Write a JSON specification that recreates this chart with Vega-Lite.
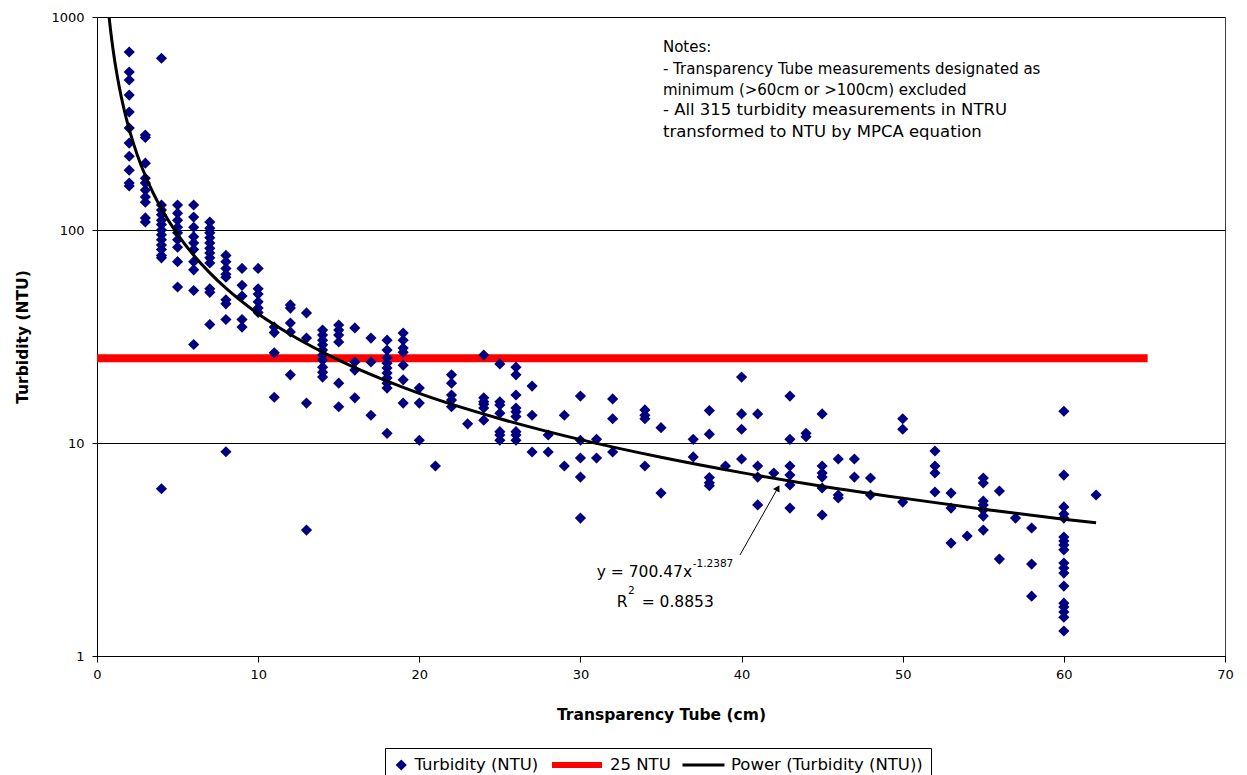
{
  "$schema": "https://vega.github.io/schema/vega-lite/v6.json",
  "width": 1128,
  "height": 639,
  "autosize": {"type": "none"},
  "padding": {"left": 97, "top": 17, "right": 22, "bottom": 119},
  "background": "white",
  "config": {
    "font": "DejaVu Sans",
    "view": {"stroke": "#404040", "strokeWidth": 1},
    "axis": {
      "domainColor": "black",
      "tickColor": "black",
      "labelColor": "black",
      "titleColor": "black",
      "labelFont": "DejaVu Sans",
      "titleFont": "DejaVu Sans",
      "labelFontSize": 13,
      "titleFontSize": 15.5,
      "titleFontWeight": "bold",
      "labelFlush": false
    },
    "legend": {
      "orient": "none",
      "legendX": 288,
      "legendY": 731,
      "direction": "horizontal",
      "clipHeight": 18,
      "strokeColor": "black",
      "strokeWidth": 1,
      "fillColor": "white",
      "padding": 8,
      "labelFont": "DejaVu Sans",
      "labelFontSize": 16.5,
      "labelColor": "black",
      "labelLimit": 400,
      "columnPadding": 10,
      "labelOffset": 5
    }
  },
  "datasets": {
    "turbidity": [
      {"x":2,"y":685,"series":"Turbidity (NTU)"},{"x":2,"y":552,"series":"Turbidity (NTU)"},{"x":2,"y":506,"series":"Turbidity (NTU)"},{"x":2,"y":430,"series":"Turbidity (NTU)"},{"x":2,"y":358,"series":"Turbidity (NTU)"},{"x":2,"y":301,"series":"Turbidity (NTU)"},{"x":2,"y":256,"series":"Turbidity (NTU)"},{"x":2,"y":222,"series":"Turbidity (NTU)"},{"x":2,"y":191,"series":"Turbidity (NTU)"},{"x":2,"y":166,"series":"Turbidity (NTU)"},{"x":2,"y":161,"series":"Turbidity (NTU)"},
      {"x":3,"y":279,"series":"Turbidity (NTU)"},{"x":3,"y":272,"series":"Turbidity (NTU)"},{"x":3,"y":206,"series":"Turbidity (NTU)"},{"x":3,"y":175,"series":"Turbidity (NTU)"},{"x":3,"y":166,"series":"Turbidity (NTU)"},{"x":3,"y":154,"series":"Turbidity (NTU)"},{"x":3,"y":143,"series":"Turbidity (NTU)"},{"x":3,"y":135,"series":"Turbidity (NTU)"},{"x":3,"y":114,"series":"Turbidity (NTU)"},{"x":3,"y":109,"series":"Turbidity (NTU)"},
      {"x":4,"y":640,"series":"Turbidity (NTU)"},{"x":4,"y":131,"series":"Turbidity (NTU)"},{"x":4,"y":124,"series":"Turbidity (NTU)"},{"x":4,"y":118,"series":"Turbidity (NTU)"},{"x":4,"y":111,"series":"Turbidity (NTU)"},{"x":4,"y":106,"series":"Turbidity (NTU)"},{"x":4,"y":100,"series":"Turbidity (NTU)"},{"x":4,"y":95,"series":"Turbidity (NTU)"},{"x":4,"y":90,"series":"Turbidity (NTU)"},{"x":4,"y":85,"series":"Turbidity (NTU)"},{"x":4,"y":81,"series":"Turbidity (NTU)"},{"x":4,"y":76,"series":"Turbidity (NTU)"},{"x":4,"y":74,"series":"Turbidity (NTU)"},{"x":4,"y":6.1,"series":"Turbidity (NTU)"},
      {"x":5,"y":131,"series":"Turbidity (NTU)"},{"x":5,"y":120,"series":"Turbidity (NTU)"},{"x":5,"y":111,"series":"Turbidity (NTU)"},{"x":5,"y":103,"series":"Turbidity (NTU)"},{"x":5,"y":97,"series":"Turbidity (NTU)"},{"x":5,"y":90,"series":"Turbidity (NTU)"},{"x":5,"y":83,"series":"Turbidity (NTU)"},{"x":5,"y":71,"series":"Turbidity (NTU)"},{"x":5,"y":54,"series":"Turbidity (NTU)"},
      {"x":6,"y":131,"series":"Turbidity (NTU)"},{"x":6,"y":115,"series":"Turbidity (NTU)"},{"x":6,"y":103,"series":"Turbidity (NTU)"},{"x":6,"y":93,"series":"Turbidity (NTU)"},{"x":6,"y":87,"series":"Turbidity (NTU)"},{"x":6,"y":81,"series":"Turbidity (NTU)"},{"x":6,"y":71,"series":"Turbidity (NTU)"},{"x":6,"y":65,"series":"Turbidity (NTU)"},{"x":6,"y":52,"series":"Turbidity (NTU)"},{"x":6,"y":29,"series":"Turbidity (NTU)"},
      {"x":7,"y":109,"series":"Turbidity (NTU)"},{"x":7,"y":102,"series":"Turbidity (NTU)"},{"x":7,"y":97,"series":"Turbidity (NTU)"},{"x":7,"y":92,"series":"Turbidity (NTU)"},{"x":7,"y":87,"series":"Turbidity (NTU)"},{"x":7,"y":82,"series":"Turbidity (NTU)"},{"x":7,"y":78,"series":"Turbidity (NTU)"},{"x":7,"y":74,"series":"Turbidity (NTU)"},{"x":7,"y":70,"series":"Turbidity (NTU)"},{"x":7,"y":53,"series":"Turbidity (NTU)"},{"x":7,"y":51,"series":"Turbidity (NTU)"},{"x":7,"y":36,"series":"Turbidity (NTU)"},
      {"x":8,"y":76,"series":"Turbidity (NTU)"},{"x":8,"y":71,"series":"Turbidity (NTU)"},{"x":8,"y":66,"series":"Turbidity (NTU)"},{"x":8,"y":62,"series":"Turbidity (NTU)"},{"x":8,"y":60,"series":"Turbidity (NTU)"},{"x":8,"y":47,"series":"Turbidity (NTU)"},{"x":8,"y":45,"series":"Turbidity (NTU)"},{"x":8,"y":38,"series":"Turbidity (NTU)"},{"x":8,"y":9.1,"series":"Turbidity (NTU)"},
      {"x":9,"y":66,"series":"Turbidity (NTU)"},{"x":9,"y":55,"series":"Turbidity (NTU)"},{"x":9,"y":49,"series":"Turbidity (NTU)"},{"x":9,"y":38,"series":"Turbidity (NTU)"},{"x":9,"y":35,"series":"Turbidity (NTU)"},
      {"x":10,"y":66,"series":"Turbidity (NTU)"},{"x":10,"y":53,"series":"Turbidity (NTU)"},{"x":10,"y":50,"series":"Turbidity (NTU)"},{"x":10,"y":46,"series":"Turbidity (NTU)"},{"x":10,"y":43,"series":"Turbidity (NTU)"},{"x":10,"y":41,"series":"Turbidity (NTU)"},
      {"x":11,"y":35,"series":"Turbidity (NTU)"},{"x":11,"y":33,"series":"Turbidity (NTU)"},{"x":11,"y":26.5,"series":"Turbidity (NTU)"},{"x":11,"y":16.4,"series":"Turbidity (NTU)"},
      {"x":12,"y":44.5,"series":"Turbidity (NTU)"},{"x":12,"y":43,"series":"Turbidity (NTU)"},{"x":12,"y":36.6,"series":"Turbidity (NTU)"},{"x":12,"y":33.2,"series":"Turbidity (NTU)"},{"x":12,"y":20.9,"series":"Turbidity (NTU)"},
      {"x":13,"y":40.8,"series":"Turbidity (NTU)"},{"x":13,"y":31.1,"series":"Turbidity (NTU)"},{"x":13,"y":15.4,"series":"Turbidity (NTU)"},{"x":13,"y":3.9,"series":"Turbidity (NTU)"},
      {"x":14,"y":33.9,"series":"Turbidity (NTU)"},{"x":14,"y":32.1,"series":"Turbidity (NTU)"},{"x":14,"y":30.4,"series":"Turbidity (NTU)"},{"x":14,"y":28.9,"series":"Turbidity (NTU)"},{"x":14,"y":27.3,"series":"Turbidity (NTU)"},{"x":14,"y":25.9,"series":"Turbidity (NTU)"},{"x":14,"y":24.5,"series":"Turbidity (NTU)"},{"x":14,"y":22.7,"series":"Turbidity (NTU)"},{"x":14,"y":21.5,"series":"Turbidity (NTU)"},{"x":14,"y":20.4,"series":"Turbidity (NTU)"},
      {"x":15,"y":35.8,"series":"Turbidity (NTU)"},{"x":15,"y":33.9,"series":"Turbidity (NTU)"},{"x":15,"y":32.1,"series":"Turbidity (NTU)"},{"x":15,"y":29.8,"series":"Turbidity (NTU)"},{"x":15,"y":19.1,"series":"Turbidity (NTU)"},{"x":15,"y":14.8,"series":"Turbidity (NTU)"},
      {"x":16,"y":34.7,"series":"Turbidity (NTU)"},{"x":16,"y":24,"series":"Turbidity (NTU)"},{"x":16,"y":22,"series":"Turbidity (NTU)"},{"x":16,"y":16.3,"series":"Turbidity (NTU)"},
      {"x":17,"y":31.1,"series":"Turbidity (NTU)"},{"x":17,"y":24,"series":"Turbidity (NTU)"},{"x":17,"y":13.5,"series":"Turbidity (NTU)"},
      {"x":18,"y":30.4,"series":"Turbidity (NTU)"},{"x":18,"y":27.3,"series":"Turbidity (NTU)"},{"x":18,"y":25.1,"series":"Turbidity (NTU)"},{"x":18,"y":23.7,"series":"Turbidity (NTU)"},{"x":18,"y":22.5,"series":"Turbidity (NTU)"},{"x":18,"y":21.3,"series":"Turbidity (NTU)"},{"x":18,"y":20.2,"series":"Turbidity (NTU)"},{"x":18,"y":19.1,"series":"Turbidity (NTU)"},{"x":18,"y":18.1,"series":"Turbidity (NTU)"},{"x":18,"y":11.1,"series":"Turbidity (NTU)"},
      {"x":19,"y":32.8,"series":"Turbidity (NTU)"},{"x":19,"y":30.4,"series":"Turbidity (NTU)"},{"x":19,"y":27.9,"series":"Turbidity (NTU)"},{"x":19,"y":26.7,"series":"Turbidity (NTU)"},{"x":19,"y":23.2,"series":"Turbidity (NTU)"},{"x":19,"y":19.8,"series":"Turbidity (NTU)"},{"x":19,"y":15.4,"series":"Turbidity (NTU)"},
      {"x":20,"y":18.1,"series":"Turbidity (NTU)"},{"x":20,"y":15.4,"series":"Turbidity (NTU)"},{"x":20,"y":10.3,"series":"Turbidity (NTU)"},
      {"x":21,"y":7.8,"series":"Turbidity (NTU)"},
      {"x":22,"y":20.9,"series":"Turbidity (NTU)"},{"x":22,"y":19.1,"series":"Turbidity (NTU)"},{"x":22,"y":16.8,"series":"Turbidity (NTU)"},{"x":22,"y":15.9,"series":"Turbidity (NTU)"},{"x":22,"y":14.8,"series":"Turbidity (NTU)"},
      {"x":23,"y":12.3,"series":"Turbidity (NTU)"},
      {"x":24,"y":25.9,"series":"Turbidity (NTU)"},{"x":24,"y":16.3,"series":"Turbidity (NTU)"},{"x":24,"y":15.6,"series":"Turbidity (NTU)"},{"x":24,"y":15.2,"series":"Turbidity (NTU)"},{"x":24,"y":14.6,"series":"Turbidity (NTU)"},{"x":24,"y":12.8,"series":"Turbidity (NTU)"},
      {"x":25,"y":23.5,"series":"Turbidity (NTU)"},{"x":25,"y":15.6,"series":"Turbidity (NTU)"},{"x":25,"y":15.1,"series":"Turbidity (NTU)"},{"x":25,"y":13.8,"series":"Turbidity (NTU)"},{"x":25,"y":11.3,"series":"Turbidity (NTU)"},{"x":25,"y":10.9,"series":"Turbidity (NTU)"},{"x":25,"y":10.3,"series":"Turbidity (NTU)"},
      {"x":26,"y":22.7,"series":"Turbidity (NTU)"},{"x":26,"y":20.9,"series":"Turbidity (NTU)"},{"x":26,"y":16.8,"series":"Turbidity (NTU)"},{"x":26,"y":14.6,"series":"Turbidity (NTU)"},{"x":26,"y":14,"series":"Turbidity (NTU)"},{"x":26,"y":13.3,"series":"Turbidity (NTU)"},{"x":26,"y":11.3,"series":"Turbidity (NTU)"},{"x":26,"y":10.9,"series":"Turbidity (NTU)"},{"x":26,"y":10.3,"series":"Turbidity (NTU)"},
      {"x":27,"y":18.5,"series":"Turbidity (NTU)"},{"x":27,"y":13.5,"series":"Turbidity (NTU)"},{"x":27,"y":9.07,"series":"Turbidity (NTU)"},
      {"x":28,"y":10.9,"series":"Turbidity (NTU)"},{"x":28,"y":9.07,"series":"Turbidity (NTU)"},
      {"x":29,"y":13.5,"series":"Turbidity (NTU)"},{"x":29,"y":7.8,"series":"Turbidity (NTU)"},
      {"x":30,"y":16.6,"series":"Turbidity (NTU)"},{"x":30,"y":10.3,"series":"Turbidity (NTU)"},{"x":30,"y":8.5,"series":"Turbidity (NTU)"},{"x":30,"y":6.92,"series":"Turbidity (NTU)"},{"x":30,"y":4.44,"series":"Turbidity (NTU)"},
      {"x":31,"y":10.4,"series":"Turbidity (NTU)"},{"x":31,"y":8.5,"series":"Turbidity (NTU)"},
      {"x":32,"y":16.1,"series":"Turbidity (NTU)"},{"x":32,"y":13,"series":"Turbidity (NTU)"},{"x":32,"y":9.07,"series":"Turbidity (NTU)"},
      {"x":34,"y":14.3,"series":"Turbidity (NTU)"},{"x":34,"y":13.5,"series":"Turbidity (NTU)"},{"x":34,"y":13,"series":"Turbidity (NTU)"},{"x":34,"y":7.8,"series":"Turbidity (NTU)"},
      {"x":35,"y":11.8,"series":"Turbidity (NTU)"},{"x":35,"y":5.82,"series":"Turbidity (NTU)"},
      {"x":37,"y":10.4,"series":"Turbidity (NTU)"},{"x":37,"y":8.6,"series":"Turbidity (NTU)"},
      {"x":38,"y":14.2,"series":"Turbidity (NTU)"},{"x":38,"y":11,"series":"Turbidity (NTU)"},{"x":38,"y":6.88,"series":"Turbidity (NTU)"},{"x":38,"y":6.5,"series":"Turbidity (NTU)"},{"x":38,"y":6.3,"series":"Turbidity (NTU)"},
      {"x":39,"y":7.8,"series":"Turbidity (NTU)"},
      {"x":40,"y":20.4,"series":"Turbidity (NTU)"},{"x":40,"y":13.7,"series":"Turbidity (NTU)"},{"x":40,"y":11.6,"series":"Turbidity (NTU)"},{"x":40,"y":8.41,"series":"Turbidity (NTU)"},
      {"x":41,"y":13.7,"series":"Turbidity (NTU)"},{"x":41,"y":7.8,"series":"Turbidity (NTU)"},{"x":41,"y":6.92,"series":"Turbidity (NTU)"},{"x":41,"y":5.12,"series":"Turbidity (NTU)"},
      {"x":42,"y":7.23,"series":"Turbidity (NTU)"},
      {"x":43,"y":16.6,"series":"Turbidity (NTU)"},{"x":43,"y":10.4,"series":"Turbidity (NTU)"},{"x":43,"y":7.8,"series":"Turbidity (NTU)"},{"x":43,"y":7.07,"series":"Turbidity (NTU)"},{"x":43,"y":6.35,"series":"Turbidity (NTU)"},{"x":43,"y":4.95,"series":"Turbidity (NTU)"},
      {"x":44,"y":11.1,"series":"Turbidity (NTU)"},{"x":44,"y":10.7,"series":"Turbidity (NTU)"},
      {"x":45,"y":13.7,"series":"Turbidity (NTU)"},{"x":45,"y":7.8,"series":"Turbidity (NTU)"},{"x":45,"y":7.23,"series":"Turbidity (NTU)"},{"x":45,"y":6.92,"series":"Turbidity (NTU)"},{"x":45,"y":6.15,"series":"Turbidity (NTU)"},{"x":45,"y":4.59,"series":"Turbidity (NTU)"},
      {"x":46,"y":8.41,"series":"Turbidity (NTU)"},{"x":46,"y":5.7,"series":"Turbidity (NTU)"},{"x":46,"y":5.52,"series":"Turbidity (NTU)"},
      {"x":47,"y":8.41,"series":"Turbidity (NTU)"},{"x":47,"y":6.92,"series":"Turbidity (NTU)"},
      {"x":48,"y":6.85,"series":"Turbidity (NTU)"},{"x":48,"y":5.7,"series":"Turbidity (NTU)"},
      {"x":50,"y":13,"series":"Turbidity (NTU)"},{"x":50,"y":11.6,"series":"Turbidity (NTU)"},{"x":50,"y":5.28,"series":"Turbidity (NTU)"},
      {"x":52,"y":9.17,"series":"Turbidity (NTU)"},{"x":52,"y":7.8,"series":"Turbidity (NTU)"},{"x":52,"y":7.23,"series":"Turbidity (NTU)"},{"x":52,"y":5.89,"series":"Turbidity (NTU)"},
      {"x":53,"y":5.82,"series":"Turbidity (NTU)"},{"x":53,"y":4.95,"series":"Turbidity (NTU)"},{"x":53,"y":3.39,"series":"Turbidity (NTU)"},
      {"x":54,"y":3.66,"series":"Turbidity (NTU)"},
      {"x":55,"y":6.85,"series":"Turbidity (NTU)"},{"x":55,"y":6.49,"series":"Turbidity (NTU)"},{"x":55,"y":5.34,"series":"Turbidity (NTU)"},{"x":55,"y":5.12,"series":"Turbidity (NTU)"},{"x":55,"y":4.85,"series":"Turbidity (NTU)"},{"x":55,"y":4.54,"series":"Turbidity (NTU)"},{"x":55,"y":3.9,"series":"Turbidity (NTU)"},
      {"x":56,"y":5.95,"series":"Turbidity (NTU)"},{"x":56,"y":2.85,"series":"Turbidity (NTU)"},
      {"x":57,"y":4.44,"series":"Turbidity (NTU)"},
      {"x":58,"y":3.99,"series":"Turbidity (NTU)"},{"x":58,"y":2.7,"series":"Turbidity (NTU)"},{"x":58,"y":1.91,"series":"Turbidity (NTU)"},
      {"x":60,"y":14.1,"series":"Turbidity (NTU)"},{"x":60,"y":7.07,"series":"Turbidity (NTU)"},{"x":60,"y":5.01,"series":"Turbidity (NTU)"},{"x":60,"y":4.64,"series":"Turbidity (NTU)"},{"x":60,"y":4.44,"series":"Turbidity (NTU)"},{"x":60,"y":3.62,"series":"Turbidity (NTU)"},{"x":60,"y":3.47,"series":"Turbidity (NTU)"},{"x":60,"y":3.32,"series":"Turbidity (NTU)"},{"x":60,"y":3.15,"series":"Turbidity (NTU)"},{"x":60,"y":2.73,"series":"Turbidity (NTU)"},{"x":60,"y":2.59,"series":"Turbidity (NTU)"},{"x":60,"y":2.45,"series":"Turbidity (NTU)"},{"x":60,"y":2.13,"series":"Turbidity (NTU)"},{"x":60,"y":1.77,"series":"Turbidity (NTU)"},{"x":60,"y":1.7,"series":"Turbidity (NTU)"},{"x":60,"y":1.61,"series":"Turbidity (NTU)"},{"x":60,"y":1.52,"series":"Turbidity (NTU)"},{"x":60,"y":1.31,"series":"Turbidity (NTU)"},
      {"x":62,"y":5.7,"series":"Turbidity (NTU)"}
    ],
    "trend": [
      {"x":0.75,"y":1000},{"x":0.78,"y":953},{"x":0.85,"y":857},{"x":1,"y":700.5},{"x":1.25,"y":531.3},{"x":1.5,"y":423.8},{"x":1.75,"y":350.2},{"x":2,"y":296.9},{"x":2.5,"y":225.1},{"x":3,"y":179.7},{"x":3.5,"y":148.4},{"x":4,"y":125.8},{"x":5,"y":95.4},{"x":6,"y":76.1},{"x":7,"y":62.9},{"x":8,"y":53.3},{"x":10,"y":40.4},{"x":12,"y":32.3},{"x":15,"y":24.5},{"x":18,"y":19.52},{"x":20,"y":17.1},{"x":25,"y":13.0},{"x":30,"y":10.37},{"x":35,"y":8.57},{"x":40,"y":7.26},{"x":45,"y":6.27},{"x":50,"y":5.51},{"x":55,"y":4.89},{"x":60,"y":4.39},{"x":62,"y":4.22}
    ]
  },
  "layer": [
    {
      "data": {"values": [{"from": 0, "to": 65.2, "level": 25}]},
      "mark": {"type": "rule", "color": "#ff0000", "strokeWidth": 8},
      "encoding": {
        "x": {"field": "from", "type": "quantitative", "scale": {"domain": [0, 70], "nice": false, "zero": false},
          "axis": {"title": "Transparency Tube (cm)", "values": [0,10,20,30,40,50,60,70], "grid": false, "tickSize": 6, "labelPadding": 6, "titlePadding": 26}},
        "x2": {"field": "to"},
        "y": {"field": "level", "type": "quantitative", "scale": {"type": "log", "domain": [1, 1000], "nice": false},
          "axis": {"title": "Turbidity (NTU)", "values": [1,10,100,1000], "format": "d", "grid": true, "gridColor": "black", "gridOpacity": 1, "gridWidth": 1, "tickSize": 5, "labelPadding": 8, "titlePadding": 20}}
      }
    },
    {
      "data": {"name": "turbidity"},
      "mark": {"type": "point", "filled": true, "opacity": 1},
      "encoding": {
        "x": {"field": "x", "type": "quantitative"},
        "y": {"field": "y", "type": "quantitative"},
        "fill": {"field": "series", "type": "nominal", "title": null,
          "legend": {"orient": "none", "direction": "horizontal", "clipHeight": 18, "legendX": 288, "legendY": 731, "labelLimit": 400},
          "scale": {"domain": ["Turbidity (NTU)", "25 NTU", "Power (Turbidity (NTU))"], "range": ["#000080", "#ff0000", "#000000"]}},
        "stroke": {"field": "series", "type": "nominal", "title": null,
          "scale": {"domain": ["Turbidity (NTU)", "25 NTU", "Power (Turbidity (NTU))"], "range": ["#000080", "#ff0000", "#000000"]}},
        "shape": {"field": "series", "type": "nominal", "title": null,
          "scale": {"domain": ["Turbidity (NTU)", "25 NTU", "Power (Turbidity (NTU))"], "range": ["diamond", "stroke", "stroke"]}},
        "size": {"field": "series", "type": "nominal", "title": null,
          "scale": {"type": "ordinal", "domain": ["Turbidity (NTU)", "25 NTU", "Power (Turbidity (NTU))"], "range": [125, 2500, 1764]}},
        "strokeWidth": {"field": "series", "type": "nominal", "title": null,
          "scale": {"type": "ordinal", "domain": ["Turbidity (NTU)", "25 NTU", "Power (Turbidity (NTU))"], "range": [0, 6, 3]}}
      }
    },
    {
      "data": {"name": "trend"},
      "mark": {"type": "line", "color": "black", "strokeWidth": 3, "interpolate": "monotone", "clip": true},
      "encoding": {
        "x": {"field": "x", "type": "quantitative"},
        "y": {"field": "y", "type": "quantitative"}
      }
    },
    {
      "data": {"values": [{"x0": 39.9, "y0": 2.98, "x1": 42.23, "y1": 6.11}]},
      "mark": {"type": "rule", "color": "black", "strokeWidth": 1},
      "encoding": {
        "x": {"field": "x0", "type": "quantitative"},
        "y": {"field": "y0", "type": "quantitative"},
        "x2": {"field": "x1"},
        "y2": {"field": "y1"}
      }
    },
    {
      "data": {"values": [{"x": 42.25, "y": 6.15}]},
      "mark": {"type": "point", "shape": "triangle-up", "angle": 29, "size": 55, "filled": true, "color": "black", "opacity": 1},
      "encoding": {
        "x": {"field": "x", "type": "quantitative"},
        "y": {"field": "y", "type": "quantitative"}
      }
    },
    {
      "data": {"values": [{"t": "y = 700.47x"}]},
      "mark": {"type": "text", "align": "left", "baseline": "middle", "fontSize": 15.5, "color": "black"},
      "encoding": {"x": {"datum": 31.01, "type": "quantitative"}, "y": {"datum": 2.487, "type": "quantitative"}, "text": {"field": "t"}}
    },
    {
      "data": {"values": [{"t": "-1.2387"}]},
      "mark": {"type": "text", "align": "left", "baseline": "middle", "fontSize": 10.5, "color": "black"},
      "encoding": {"x": {"datum": 36.97, "type": "quantitative"}, "y": {"datum": 2.704, "type": "quantitative"}, "text": {"field": "t"}}
    },
    {
      "data": {"values": [{"t": "R"}]},
      "mark": {"type": "text", "align": "left", "baseline": "middle", "fontSize": 15.5, "color": "black"},
      "encoding": {"x": {"datum": 32.25, "type": "quantitative"}, "y": {"datum": 1.798, "type": "quantitative"}, "text": {"field": "t"}}
    },
    {
      "data": {"values": [{"t": "2"}]},
      "mark": {"type": "text", "align": "left", "baseline": "middle", "fontSize": 10.5, "color": "black"},
      "encoding": {"x": {"datum": 32.95, "type": "quantitative"}, "y": {"datum": 2.026, "type": "quantitative"}, "text": {"field": "t"}}
    },
    {
      "data": {"values": [{"t": "= 0.8853"}]},
      "mark": {"type": "text", "align": "left", "baseline": "middle", "fontSize": 15.5, "color": "black"},
      "encoding": {"x": {"datum": 33.8, "type": "quantitative"}, "y": {"datum": 1.798, "type": "quantitative"}, "text": {"field": "t"}}
    },
    {
      "data": {"values": [{"t": "Notes:"}]},
      "mark": {"type": "text", "align": "left", "baseline": "middle", "fontSize": 15, "color": "black"},
      "encoding": {"x": {"datum": 35.12, "type": "quantitative"}, "y": {"datum": 725.5, "type": "quantitative"}, "text": {"field": "t"}}
    },
    {
      "data": {"values": [{"t": "- Transparency Tube measurements designated as"}]},
      "mark": {"type": "text", "align": "left", "baseline": "middle", "fontSize": 15, "color": "black"},
      "encoding": {"x": {"datum": 35.12, "type": "quantitative"}, "y": {"datum": 571.9, "type": "quantitative"}, "text": {"field": "t"}}
    },
    {
      "data": {"values": [{"t": "minimum (>60cm or >100cm) excluded"}]},
      "mark": {"type": "text", "align": "left", "baseline": "middle", "fontSize": 15, "color": "black"},
      "encoding": {"x": {"datum": 35.12, "type": "quantitative"}, "y": {"datum": 456.5, "type": "quantitative"}, "text": {"field": "t"}}
    },
    {
      "data": {"values": [{"t": "- All 315 turbidity measurements in NTRU"}]},
      "mark": {"type": "text", "align": "left", "baseline": "middle", "fontSize": 16.5, "color": "black"},
      "encoding": {"x": {"datum": 35.12, "type": "quantitative"}, "y": {"datum": 365.9, "type": "quantitative"}, "text": {"field": "t"}}
    },
    {
      "data": {"values": [{"t": "transformed to NTU by MPCA equation"}]},
      "mark": {"type": "text", "align": "left", "baseline": "middle", "fontSize": 16.5, "color": "black"},
      "encoding": {"x": {"datum": 35.12, "type": "quantitative"}, "y": {"datum": 289.4, "type": "quantitative"}, "text": {"field": "t"}}
    }
  ]
}
